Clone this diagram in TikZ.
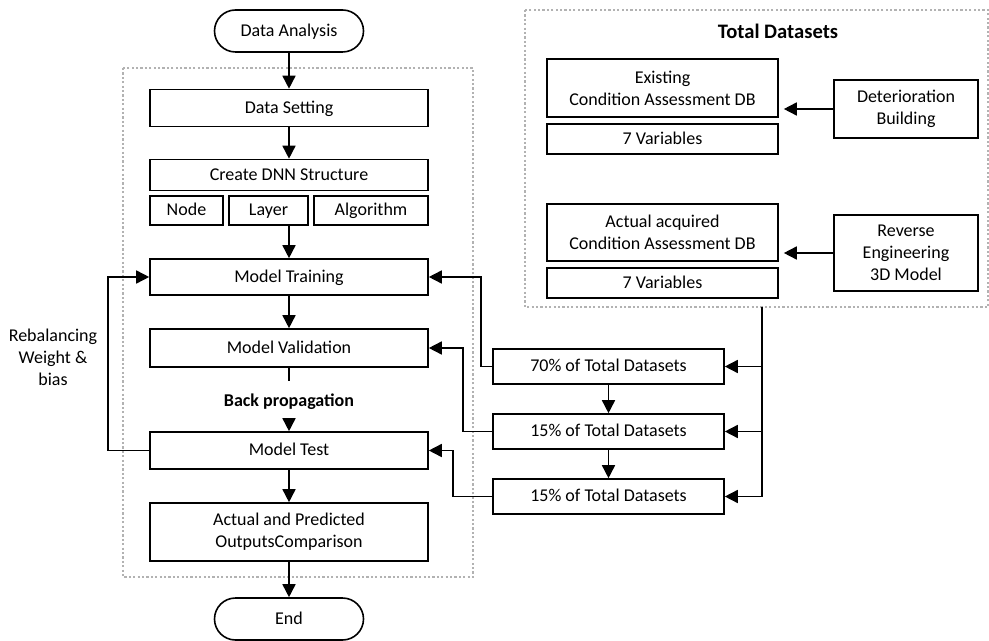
\documentclass[tikz,border=0pt]{standalone}
\usepackage{fontspec}
\setmainfont{Carlito}
\usetikzlibrary{arrows.meta}
\begin{document}
\begin{tikzpicture}[x=0.5pt,y=-0.5pt,line width=0.8pt,font=\fontsize{9}{11}\selectfont,
  >={Triangle[length=6.5pt,width=6.5pt]},
  box/.style={draw,align=center,inner sep=1pt,minimum width=#1},
  box/.default=139pt,
  one/.style={text height=1.6ex,text depth=0.45ex},
  term/.style={draw,rounded corners=10.5pt,minimum width=74.5pt,minimum height=21pt,one},
  frame/.style={draw=gray!60,line width=1.3pt,dash pattern=on 1.1pt off 1.1pt}]

\useasboundingbox (0,0) rectangle (989,641);

\draw[frame] (123,68) rectangle (473,577);
\draw[frame] (525,10) rectangle (988,307);

\node[term] (ana) at (289,31) {Data Analysis};
\node[box,one,minimum height=18.5pt] (set) at (289,108) {Data Setting};
\node[box,one,minimum height=15.5pt] (dnn) at (289,175) {Create DNN Structure};
\node[box=36.5pt,one,minimum height=14.5pt] (nod) at (186.5,210.5) {Node};
\node[box=39.5pt,one,minimum height=14.5pt] (lay) at (268.5,210.5) {Layer};
\node[box=57pt,one,minimum height=14.5pt] (alg) at (371,210.5) {Algorithm};
\node[box,one,minimum height=18pt] (train) at (289,277) {Model Training};
\node[box,one,minimum height=19pt] (valid) at (289,348) {Model Validation};
\node[font=\fontsize{9}{11}\selectfont\bfseries] (bp) at (289,402) {Back propagation};
\node[box,one,minimum height=18.5pt] (test) at (289,450.5) {Model Test};
\node[box,minimum height=29pt] (comp) at (289,532) {Actual and Predicted\\OutputsComparison};
\node[term] (endn) at (289,619) {End};
\node[align=center] (rebal) at (53,357) {Rebalancing\\Weight \&\\bias};

\coordinate (bp1) at (289,381);
\coordinate (bp2) at (289,420);

\draw[->] (ana) -- (set);
\draw[->] (set) -- (dnn);
\draw[->] (train.north |- lay.south) -- (train);
\draw[->] (train) -- (valid);
\draw (valid) -- (bp1);
\draw[->] (bp2) -- (test);
\draw[->] (test) -- (comp);
\draw[->] (comp) -- (endn);
\draw[->] (test.west) -- (108,450.5) |- (train.west);

\node[font=\fontsize{10.3}{12}\selectfont\bfseries] (tot) at (778,31) {Total Datasets};
\node[box=115.5pt,minimum height=29pt] (exi) at (662.5,88) {Existing\\Condition Assessment DB};
\node[box=115.5pt,one,minimum height=15pt] (var1) at (662.5,139) {7 Variables};
\node[box=72pt,minimum height=29pt] (det) at (906,109) {Deterioration\\Building};
\node[box=115.5pt,minimum height=28.5pt] (act) at (662.5,232.5) {Actual acquired\\Condition Assessment DB};
\node[box=115.5pt,one,minimum height=15pt] (var2) at (662.5,283) {7 Variables};
\node[box=72pt,minimum height=38pt] (rev) at (906,253) {Reverse\\Engineering\\3D Model};

\draw[->,shorten >=2.5pt] (det) -- (exi.east |- det);
\draw[->,shorten >=2.5pt] (rev) -- (act.east |- rev);

\node[box=115.5pt,one,minimum height=17.5pt] (p70) at (608.5,366.5) {70\% of Total Datasets};
\node[box=115.5pt,one,minimum height=17.5pt] (p15a) at (608.5,431.5) {15\% of Total Datasets};
\node[box=115.5pt,one,minimum height=17.5pt] (p15b) at (608.5,496.5) {15\% of Total Datasets};
\coordinate (split) at (762,307);

\draw[->] (split) |- (p70);
\draw[->] (split) |- (p15a);
\draw[->] (split) |- (p15b);
\draw[->] (p70) -- (p15a);
\draw[->] (p15a) -- (p15b);
\draw[->] (p70.west) -- (481,366.5) |- (train.east);
\draw[->] (p15a.west) -- (463,431.5) |- (valid.east);
\draw[->] (p15b.west) -- (453,496.5) |- (test.east);
\end{tikzpicture}
\end{document}
